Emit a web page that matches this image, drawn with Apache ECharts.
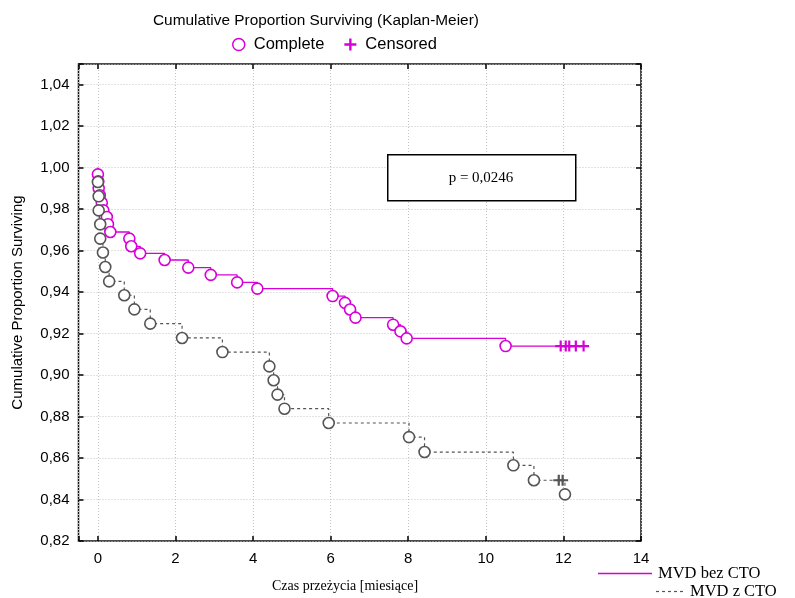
<!DOCTYPE html>
<html>
<head>
<meta charset="utf-8">
<script src="https://cdn.jsdelivr.net/npm/echarts@6/dist/echarts.min.js"></script>
<style>
  html, body { margin: 0; padding: 0; background: #fff; }
  #chart { width: 795px; height: 598px; }
</style>
</head>
<body>
<div id="chart"></div>
<script>
// MVD bez CTO - times of events (months) and survival after each event
var bezTime = [0.0, 0.01, 0.02, 0.05, 0.10, 0.14, 0.23, 0.26, 0.32, 0.81, 0.86, 1.09, 1.72, 2.33, 2.91, 3.59, 4.11,
  6.05, 6.37, 6.50, 6.64, 7.61, 7.80, 7.96, 10.51];
var bezSurv = [0.9968, 0.9934, 0.9901, 0.9867, 0.9831, 0.9794, 0.9762, 0.9727, 0.9690, 0.9658, 0.9621, 0.9587, 0.9555,
  0.9518, 0.9483, 0.9447, 0.9417, 0.9381, 0.9348, 0.9316, 0.9277, 0.9243, 0.9211, 0.9177, 0.9140];
var bezCensTime = [11.93, 12.06, 12.15, 12.32, 12.52];
var bezCensSurv = [0.9140, 0.9140, 0.9140, 0.9140, 0.9140];

// MVD z CTO
var zTime = [0.0, 0.02, 0.02, 0.06, 0.06, 0.13, 0.19, 0.29, 0.68, 0.94, 1.35, 2.17, 3.21, 4.42, 4.53, 4.63, 4.81,
  5.95, 8.02, 8.42, 10.71, 11.24, 12.04];
var zSurv = [0.9931, 0.9862, 0.9794, 0.9727, 0.9658, 0.9591, 0.9521, 0.9452, 0.9385, 0.9317, 0.9248, 0.9179, 0.9111,
  0.9042, 0.8975, 0.8906, 0.8838, 0.8769, 0.8701, 0.8629, 0.8565, 0.8493, 0.8425];
var zCensTime = [11.88, 11.98];
var zCensSurv = [0.8493, 0.8493];

var groupNames = ['MVD bez CTO', 'MVD z CTO'];

var MAG = '#d800d8';
var GRAY = '#555555';
var PLUS = 'path://M4,0h2v4h4v2h-4v4h-2v-4h-4v-2h4z';
var SANS = 'Liberation Sans, Arial, sans-serif';
var SERIF = 'Liberation Serif, Times New Roman, serif';

function stepData(t, s, ct, cs) {
  var all = [];
  for (var i = 0; i < t.length; i++) all.push([t[i], s[i]]);
  for (var j = 0; j < ct.length; j++) all.push([ct[j], cs[j]]);
  all.sort(function (a, b) { return a[0] - b[0]; });
  return [[0, 1]].concat(all);
}
function pairs(t, s) {
  return t.map(function (v, i) { return [v, s[i]]; });
}

var tickStyle = { inside: true, length: 5, lineStyle: { color: '#000', width: 1.5 } };
var gridLine = { show: true, lineStyle: { color: '#c4c4c4', type: [1, 2] } };

var chart = echarts.init(document.getElementById('chart'));
var option = {
  animation: false,
  title: {
    text: 'Cumulative Proportion Surviving (Kaplan-Meier)',
    left: 148, top: 8,
    textStyle: { fontFamily: SANS, fontSize: 15.4, fontWeight: 'normal', color: '#000' }
  },
  legend: {
    left: 232, top: 36, padding: 0,
    itemWidth: 12, itemHeight: 12, itemGap: 20,
    textStyle: { fontFamily: SANS, fontSize: 16.5, color: '#000', padding: [0, 0, 0, 4] },
    data: [
      { name: 'Complete', icon: 'circle', itemStyle: { color: '#fff', borderColor: MAG, borderWidth: 1.5 } },
      { name: 'Censored', icon: PLUS, itemStyle: { color: MAG } }
    ]
  },
  grid: {
    left: 78.5, right: 154, top: 64, bottom: 57,
    show: true, borderColor: '#111', borderWidth: 1.5
  },
  xAxis: [{
    type: 'value', min: -0.5, max: 14, splitNumber: 7, minInterval: 2, maxInterval: 2,
    axisLine: { show: false, onZero: false },
    axisTick: tickStyle,
    axisLabel: {
      margin: 10, fontFamily: SANS, fontSize: 15, color: '#000',
      formatter: function (v) { return (Math.abs(v % 2) < 1e-9) ? String(v) : ''; }
    },
    splitLine: gridLine
  }, {
    type: 'value', position: 'top', min: -0.5, max: 14, splitNumber: 7, minInterval: 2, maxInterval: 2,
    axisLine: { show: false, onZero: false },
    axisTick: tickStyle,
    axisLabel: { show: false },
    splitLine: { show: false }
  }],
  yAxis: [{
    type: 'value', min: 0.82, max: 1.05, interval: 0.02,
    name: 'Cumulative Proportion Surviving',
    nameLocation: 'middle', nameGap: 53,
    nameTextStyle: { fontFamily: SANS, fontSize: 15, color: '#000' },
    axisLine: { show: false, onZero: false },
    axisTick: tickStyle,
    axisLabel: {
      margin: 9, fontFamily: SANS, fontSize: 15, color: '#000',
      formatter: function (v) {
        var k = Math.round(v / 0.02);
        return Math.abs(k * 0.02 - v) < 1e-6 ? v.toFixed(2).replace('.', ',') : '';
      }
    },
    splitLine: gridLine
  }, {
    type: 'value', position: 'right', min: 0.82, max: 1.05, interval: 0.02,
    axisLine: { show: false, onZero: false },
    axisTick: tickStyle,
    axisLabel: { show: false },
    splitLine: { show: false }
  }],
  graphic: [{
    type: 'rect', left: 387, top: 154, z: 100,
    shape: { width: 188, height: 46 },
    style: { fill: '#fff', stroke: '#000', lineWidth: 1.5 }
  }, {
    type: 'text', x: 481, y: 178, z: 101,
    style: { text: 'p = 0,0246', font: '15px ' + SERIF, fill: '#000', align: 'center', verticalAlign: 'middle' }
  }, {
    type: 'text', x: 345, y: 586,
    style: { text: 'Czas przeżycia [miesiące]', font: '14px ' + SERIF, fill: '#000', align: 'center', verticalAlign: 'middle' }
  }, {
    // group key, bottom right
    type: 'line', shape: { x1: 598, y1: 573.5, x2: 652, y2: 573.5 },
    style: { stroke: MAG, lineWidth: 1.3 }
  }, {
    type: 'text', x: 658, y: 574,
    style: { text: groupNames[0], font: '16.5px ' + SERIF, fill: '#000', verticalAlign: 'middle' }
  }, {
    type: 'line', shape: { x1: 656, y1: 591.5, x2: 684, y2: 591.5 },
    style: { stroke: GRAY, lineWidth: 1.2, lineDash: [3, 3] }
  }, {
    type: 'text', x: 690, y: 592,
    style: { text: groupNames[1], font: '16.5px ' + SERIF, fill: '#000', verticalAlign: 'middle' }
  }],
  series: [{
    name: groupNames[0], type: 'line', step: 'end', symbol: 'none', z: 2,
    data: stepData(bezTime, bezSurv, bezCensTime, bezCensSurv),
    lineStyle: { color: MAG, width: 1.3 }, itemStyle: { color: MAG }
  }, {
    name: 'Complete', type: 'scatter', symbol: 'circle', symbolSize: 11, z: 4,
    data: pairs(bezTime, bezSurv),
    itemStyle: { color: '#fff', borderColor: MAG, borderWidth: 1.6, opacity: 1 }
  }, {
    name: 'Censored', type: 'scatter', symbol: PLUS, symbolSize: 11, z: 4,
    data: pairs(bezCensTime, bezCensSurv),
    itemStyle: { color: MAG, opacity: 1 }
  }, {
    name: groupNames[1], type: 'line', step: 'end', symbol: 'none', z: 3,
    data: stepData(zTime, zSurv, zCensTime, zCensSurv),
    lineStyle: { color: GRAY, width: 1.2, type: [3, 3] }, itemStyle: { color: GRAY }
  }, {
    name: 'Complete', type: 'scatter', symbol: 'circle', symbolSize: 11, z: 5,
    data: pairs(zTime, zSurv),
    itemStyle: { color: '#fff', borderColor: GRAY, borderWidth: 1.6, opacity: 1 }
  }, {
    name: 'Censored', type: 'scatter', symbol: PLUS, symbolSize: 11, z: 5,
    data: pairs(zCensTime, zCensSurv),
    itemStyle: { color: GRAY, opacity: 1 }
  }]
};
chart.setOption(option);
</script>
</body>
</html>
